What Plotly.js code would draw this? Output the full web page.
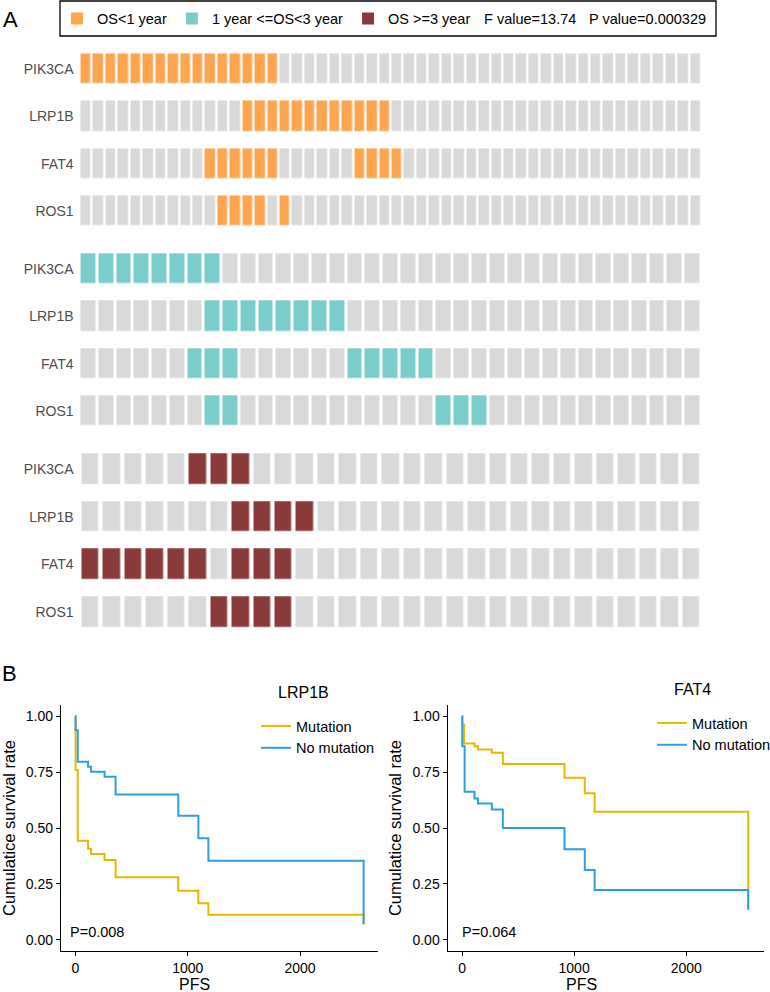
<!doctype html>
<html>
<head>
<meta charset="utf-8">
<script src="https://cdn.plot.ly/plotly-3.0.1.min.js"></script>
<style>
  html, body { margin: 0; padding: 0; background: #fff; }
  #chart { width: 770px; height: 992px; }
</style>
</head>
<body>
<div id="chart"></div>
<script>
// ---- panel A data ----
const genes = ['PIK3CA', 'LRP1B', 'FAT4', 'ROS1']
const groupNames = ['OS<1 year', '1 year <=OS<3 year', 'OS >=3 year']
const groupColors = ['#FFA54F', '#79CDCD', '#8B3A3A']
const patientCounts = [50, 35, 29]
// mutated patient columns (1-based), one list per gene in the order of genes
const mutShort = [
  [1, 2, 3, 4, 5, 6, 7, 8, 9, 10, 11, 12, 13, 14, 15, 16],
  [14, 15, 16, 17, 18, 19, 20, 21, 22, 23, 24, 25],
  [11, 12, 13, 14, 15, 16, 23, 24, 25, 26],
  [12, 13, 14, 15, 17]
]
const mutMid = [
  [1, 2, 3, 4, 5, 6, 7, 8],
  [8, 9, 10, 11, 12, 13, 14, 15],
  [7, 8, 9, 16, 17, 18, 19, 20],
  [8, 9, 21, 22, 23]
]
const mutLong = [
  [6, 7, 8],
  [8, 9, 10, 11],
  [1, 2, 3, 4, 5, 6, 8, 9, 10],
  [7, 8, 9, 10]
]
const fText = 'F value=13.74'
const pText = 'P value=0.000329'

// ---- panel B data (Kaplan-Meier steps) ----
const lrpMutTime = [0, 2, 21, 113, 140, 260, 358, 916, 1095, 1184, 2566]
const lrpMutSurv = [1, 0.759, 0.443, 0.407, 0.384, 0.357, 0.28, 0.219, 0.164, 0.112, 0.07]
const lrpWtTime = [0, 2, 21, 113, 140, 260, 358, 916, 1095, 1184, 2566]
const lrpWtSurv = [1, 0.9375, 0.796, 0.774, 0.751, 0.729, 0.65, 0.555, 0.454, 0.353, 0.07]
const fatMutTime = [0, 3, 18, 111, 142, 266, 364, 914, 1095, 1183, 2553]
const fatMutSurv = [1, 0.963, 0.878, 0.866, 0.851, 0.836, 0.786, 0.725, 0.655, 0.573, 0.134]
const fatWtTime = [0, 2, 23, 111, 142, 266, 364, 914, 1095, 1183, 2553]
const fatWtSurv = [1, 0.866, 0.662, 0.632, 0.61, 0.583, 0.5, 0.405, 0.3125, 0.223, 0.134]
const lrpP = 'P=0.008'
const fatP = 'P=0.064'
const mutColor = '#E7B800'
const wtColor = '#2E9FDF'

const W = 770, H = 992
const px = v => v / W
const py = v => 1 - v / H
const font = 'Liberation Sans, Arial, Helvetica, sans-serif'

let traces = []
let layout = {
  width: W, height: H,
  margin: { l: 0, r: 0, t: 0, b: 0, autoexpand: false },
  paper_bgcolor: '#fff', plot_bgcolor: '#fff',
  font: { family: font, color: '#000' },
  annotations: [], shapes: []
}

// heatmap rows for the three OS groups
let mutLists = [mutShort, mutMid, mutLong]
let rowTops = [45.4, 245.3, 445.2]
let rowBottoms = [234.6, 434.7, 635.8]
let cellWidths = [10, 14.7, 17.1]
mutLists.forEach((muts, g) => {
  let n = patientCounts[g]
  let cols = Array.from({ length: n }, (_, i) => i + 1)
  let z = muts.map(list => cols.map(c => list.includes(c) ? 1 : 0))
  let ax = g === 0 ? '' : String(g + 1)
  traces.push({
    type: 'heatmap', x: cols, y: genes, z,
    xaxis: 'x' + ax, yaxis: 'y' + ax,
    colorscale: [[0, '#D9D9D9'], [1, groupColors[g]]],
    zmin: 0, zmax: 1, showscale: false,
    xgap: 622 / n - cellWidths[g], ygap: 17.3,
    hoverinfo: 'skip'
  })
  layout['xaxis' + ax] = {
    domain: [px(79.5), px(701.5)], range: [0.5, n + 0.5],
    visible: false, fixedrange: true, anchor: 'y' + ax
  }
  layout['yaxis' + ax] = {
    domain: [py(rowBottoms[g]), py(rowTops[g])], type: 'category',
    autorange: 'reversed', showgrid: false, zeroline: false, showline: false,
    ticks: '', ticklabelstandoff: 5,
    tickfont: { size: 14, color: '#4D4D4D' }, anchor: 'x' + ax
  }
})

// legend entries for panel A
groupNames.forEach((name, g) => {
  traces.push({
    type: 'scatter', mode: 'markers', x: [null], y: [null],
    xaxis: 'x4', yaxis: 'y4', name,
    marker: { symbol: 'square', size: 16, color: groupColors[g] },
    legend: 'legend', hoverinfo: 'skip'
  })
})

// Kaplan-Meier curves
function km (x, y, name, color, ax, leg) {
  return {
    type: 'scatter', mode: 'lines', x, y, name,
    line: { shape: 'hv', color, width: 2 },
    xaxis: 'x' + ax, yaxis: 'y' + ax, legend: leg
  }
}
traces.push(
  km(lrpMutTime, lrpMutSurv, 'Mutation', mutColor, 4, 'legend2'),
  km(lrpWtTime, lrpWtSurv, 'No mutation', wtColor, 4, 'legend2'),
  km(fatMutTime, fatMutSurv, 'Mutation', mutColor, 5, 'legend3'),
  km(fatWtTime, fatWtSurv, 'No mutation', wtColor, 5, 'legend3')
)

function kmX (l, r, ax) {
  return {
    domain: [px(l), px(r)], range: [-128, 2694], anchor: 'y' + ax,
    tickvals: [0, 1000, 2000], ticks: 'outside', ticklen: 4, tickcolor: '#000',
    showline: true, linecolor: '#000', linewidth: 1.2,
    showgrid: false, zeroline: false,
    tickfont: { size: 14, color: '#000' }
  }
}
function kmY (ax) {
  return {
    domain: [py(951), py(705)], range: [-0.05, 1.05], anchor: 'x' + ax,
    tickvals: [0, 0.25, 0.5, 0.75, 1], tickformat: '.2f',
    ticks: 'outside', ticklen: 4, tickcolor: '#000',
    showline: true, linecolor: '#000', linewidth: 1.2,
    showgrid: false, zeroline: false,
    tickfont: { size: 14, color: '#000' },
    title: { text: 'Cumulatice survival rate', font: { size: 16.5 }, standoff: 6 }
  }
}
layout.xaxis4 = kmX(61, 378, 4)
layout.yaxis4 = kmY(4)
layout.xaxis5 = kmX(447.7, 764, 5)
layout.yaxis5 = kmY(5)

layout.showlegend = true
layout.legend = {
  orientation: 'h', x: px(57), xanchor: 'left', y: py(18.5), yanchor: 'middle',
  bgcolor: 'rgba(0,0,0,0)', borderwidth: 0, font: { size: 14.5, color: '#000' },
  itemsizing: 'constant'
}
layout.legend2 = {
  x: px(256), xanchor: 'left', y: py(710), yanchor: 'top',
  bgcolor: 'rgba(0,0,0,0)', font: { size: 14.5, color: '#000' }
}
layout.legend3 = {
  x: px(652), xanchor: 'left', y: py(707), yanchor: 'top',
  bgcolor: 'rgba(0,0,0,0)', font: { size: 14.5, color: '#000' }
}

// box round the panel A legend
layout.shapes.push({
  type: 'rect', xref: 'paper', yref: 'paper',
  x0: px(60), x1: px(716), y0: py(36), y1: py(1),
  line: { color: '#000', width: 1.3 }
})

let ann = (text, x, y, size, extra) => Object.assign({
  text, x, y, xref: 'paper', yref: 'paper', showarrow: false,
  xanchor: 'left', yanchor: 'middle', font: { size, color: '#000' }
}, extra || {})
layout.annotations.push(
  ann('A', px(1), py(20), 22),
  ann('B', px(0), py(673), 22),
  ann(fText, px(482), py(19), 14.5),
  ann(pText, px(587), py(19), 14.5),
  ann('LRP1B', px(276), py(692), 16),
  ann('FAT4', px(672), py(689), 16),
  ann('PFS', px(194.5), py(984), 16, { xanchor: 'center' }),
  ann('PFS', px(581), py(984), 16, { xanchor: 'center' }),
  ann(lrpP, -62, 0.036, 14.5, { xref: 'x4', yref: 'y4' }),
  ann(fatP, -20, 0.036, 14.5, { xref: 'x5', yref: 'y5' })
)

Plotly.newPlot('chart', traces, layout, { displayModeBar: false, staticPlot: true })
</script>
</body>
</html>
